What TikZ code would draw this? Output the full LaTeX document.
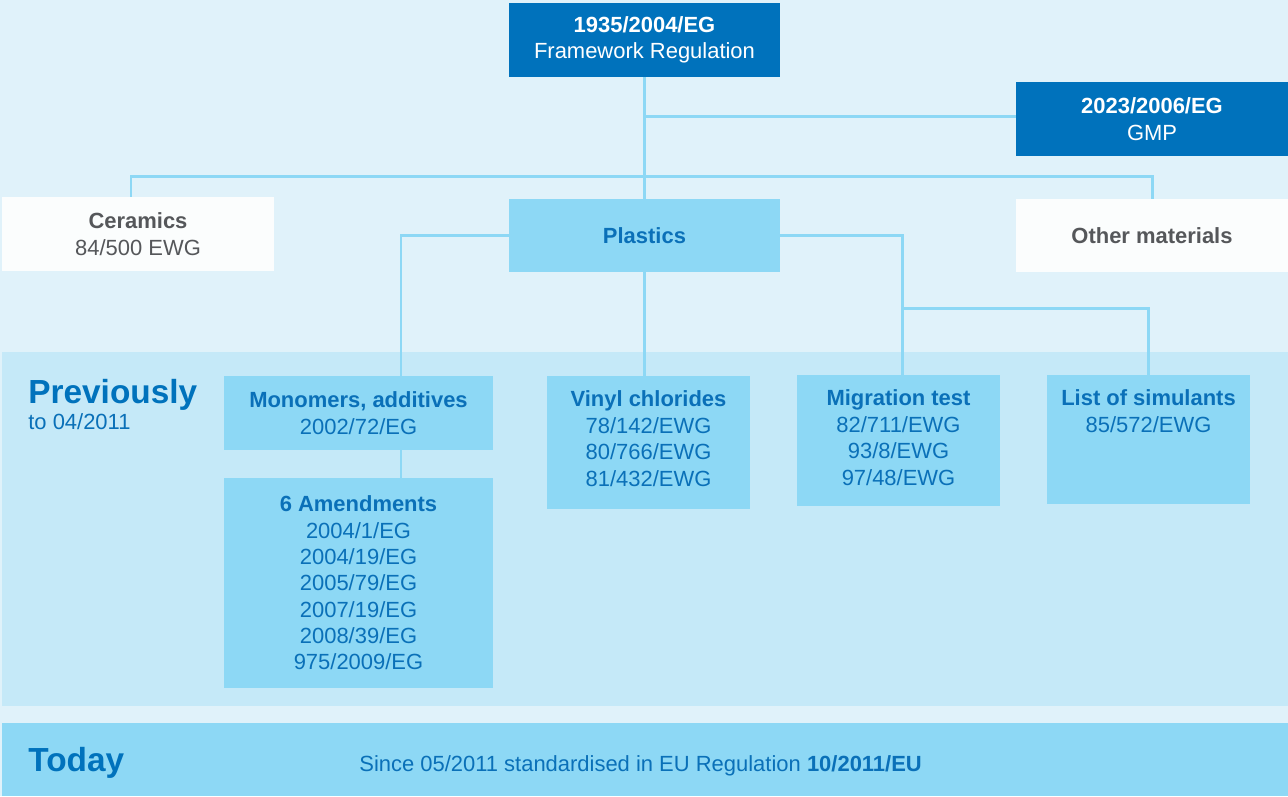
\documentclass[tikz,border=0pt]{standalone}
\usepackage{fontspec}
\setmainfont{Liberation Sans}
\usepackage{tikz}
\usetikzlibrary{positioning,calc}
\definecolor{bgblue}{HTML}{E0F2FA}
\definecolor{bandblue}{HTML}{C5E9F8}
\definecolor{boxblue}{HTML}{8DD8F5}
\definecolor{darkblue}{HTML}{0072BC}
\definecolor{textblue}{HTML}{0A70B8}
\definecolor{textgray}{HTML}{55575A}
\definecolor{paleWhite}{HTML}{FBFDFD}
\tikzset{
    boxfont/.style={font=\fontsize{12.5}{15}\selectfont},
    base/.style={rectangle, inner sep=0pt, align=center, boxfont},
    darkbox/.style={base, fill=darkblue, text=white},
    lightbox/.style={base, fill=boxblue, text=textblue},
    whitebox/.style={base, fill=paleWhite, text=textgray},
    heading/.style={anchor=base west, inner sep=0pt, text=darkblue, font=\bfseries\fontsize{19}{23}\selectfont},
    link/.style={draw=boxblue, line width=1.7pt}
}

\begin{document}
\begin{tikzpicture}[x=0.02cm,y=-0.02cm]
\fill[bgblue] (0,0) rectangle (1288,796);
\fill[bandblue] (2,352) rectangle (1288,706);
\fill[boxblue] (2,723) rectangle (1288,796);
\node[darkbox, minimum width=5.42cm, minimum height=1.48cm] (frame) at (644.5,40) {\textbf{1935/2004/EG}\\Framework Regulation};
\node[darkbox, minimum width=5.44cm, minimum height=1.48cm] (gmp) at (1152,119) {\textbf{2023/2006/EG}\\GMP};
\node[whitebox, minimum width=5.44cm, minimum height=1.48cm] (ceram) at (138,234) {\textbf{Ceramics}\\84/500 EWG};
\node[lightbox, minimum width=5.42cm, minimum height=1.46cm] (plastics) at (644.5,235.5) {\textbf{Plastics}};
\node[whitebox, minimum width=5.44cm, minimum height=1.46cm] (other) at (1152,235.5) {\textbf{Other materials}};
% previously
\node[heading] (prev) at (28,403) {Previously};
\node[anchor=base west, inner sep=0pt, text=textblue, boxfont] (prevdate) at (28,429) {to 04/2011};
\node[lightbox, minimum width=5.38cm, minimum height=1.48cm] (mono) at (358.5,413) {\textbf{Monomers, additives}\\2002/72/EG};
\node[lightbox, minimum width=5.38cm, minimum height=4.2cm] (amend) at (358.5,583) {\textbf{6 Amendments}\\2004/1/EG\\2004/19/EG\\2005/79/EG\\2007/19/EG\\2008/39/EG\\975/2009/EG};
\node[lightbox, minimum width=4.06cm, minimum height=2.66cm] (vinyl) at (648.5,442.5) {};
\node[lightbox, fill=none, anchor=north] (vinyltext) at ([yshift=-0.3cm]vinyl.north) {\textbf{Vinyl chlorides}\\78/142/EWG\\80/766/EWG\\81/432/EWG};
\node[lightbox, minimum width=4.06cm, minimum height=2.62cm] (migr) at (898.5,440.5) {};
\node[lightbox, fill=none, anchor=north] (migrtext) at ([yshift=-0.3cm]migr.north) {\textbf{Migration test}\\82/711/EWG\\93/8/EWG\\97/48/EWG};
\node[lightbox, minimum width=4.06cm, minimum height=2.58cm] (sim) at (1148.5,439.5) {};
\node[lightbox, fill=none, anchor=north] (simtext) at ([yshift=-0.3cm]sim.north) {\textbf{List of simulants}\\85/572/EWG};
% today
\node[heading] (today) at (28,771) {Today};
\node[anchor=base west, inner sep=0pt, text=textblue, boxfont] (since) at (359,771) {Since 05/2011 standardised in EU Regulation \textbf{10/2011/EU}};
% connectors
\draw[link] (frame) -- (plastics);
\draw[link] ([yshift=0.06cm]frame.south |- gmp.west) -- ([yshift=0.06cm]gmp.west);
\draw[link] ([xshift=-0.14cm]ceram.north) |- (frame.south |- 0,176) -| (other.north);
\coordinate (mleft) at (401,235.5);
\draw[link] (plastics.west) -- (mleft) -- (mleft |- mono.north);
\draw[link] (mleft |- mono.south) -- (mleft |- amend.north);
\draw[link] (plastics.south) -- (plastics.south |- vinyl.north);
\coordinate (mright) at (902,235.5);
\draw[link] (plastics.east) -- (mright) -- (mright |- migr.north);
\draw[link] (mright |- 0,308) -| (sim.north);
\end{tikzpicture}
\end{document}
